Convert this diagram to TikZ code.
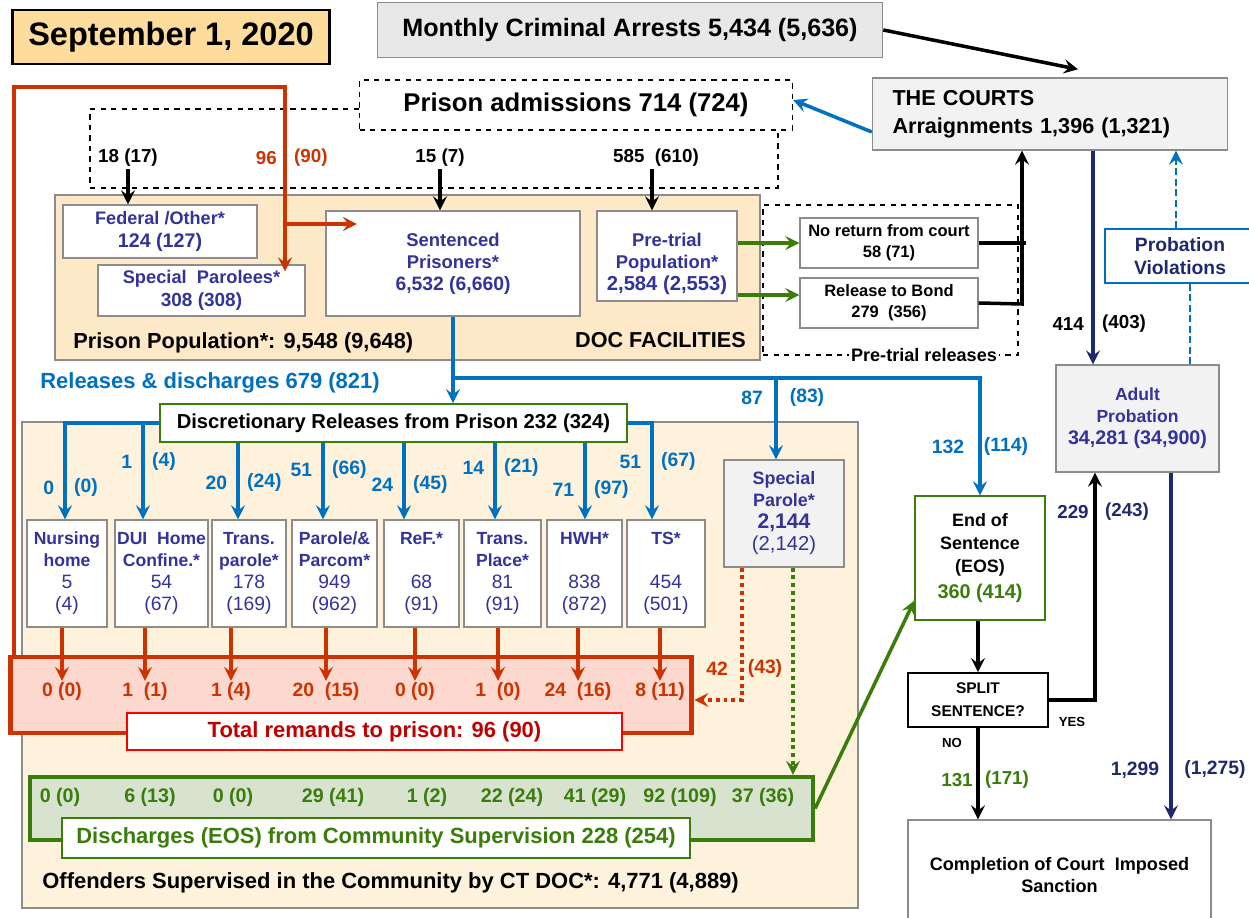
\documentclass[tikz,border=0pt]{standalone}
\usepackage{fontspec}
\setmainfont{Liberation Sans}
\usetikzlibrary{arrows.meta,calc}

\definecolor{datefill}{HTML}{FDDC9C}
\definecolor{docfill}{HTML}{FDE9C8}
\definecolor{commfill}{HTML}{FEF2DD}
\definecolor{greyfill}{HTML}{E8E8E8}
\definecolor{lightfill}{HTML}{F2F2F2}
\definecolor{remfill}{HTML}{FCD8CF}
\definecolor{disfill}{HTML}{D7E3CF}
\definecolor{boxgrey}{HTML}{8C8C8C}
\definecolor{cnavy}{HTML}{33339A}
\definecolor{cdnavy}{HTML}{1F2A6E}
\definecolor{cblue}{HTML}{0070C0}
\definecolor{cred}{HTML}{CC3300}
\definecolor{cdred}{HTML}{C00000}
\definecolor{cgreen}{HTML}{3A7D0A}

\newcommand{\setfs}[2]{\fontsize{#1}{#2}\selectfont}
\newcommand{\subnum}[1]{{\mdseries\setfs{11}{12.5}#1}}

\begin{document}
\begin{tikzpicture}[x=0.02cm, y=-0.02cm,
    box/.style={draw=boxgrey, line width=0.8pt, fill=white, align=center, inner sep=0pt},
    sub/.style={box, minimum height=2.14cm, text=cnavy, font=\setfs{10}{12.5}\bfseries},
    lbl/.style={inner sep=1pt, font=\setfs{10.7}{12}\bfseries},
    bnum/.style={lbl, text=cblue, font=\setfs{11}{12}\bfseries},
    rnum/.style={lbl, text=cred, font=\setfs{11}{12}\bfseries},
    gnum/.style={lbl, text=cgreen, font=\setfs{11.2}{12}\bfseries},
    arr/.style={-{Stealth[length=8pt, width=8pt, inset=3pt]}, line width=2pt},
    blkarr/.style={arr, black},
    bluearr/.style={arr, cblue},
    redarr/.style={arr, cred},
    navyarr/.style={arr, cdnavy},
    greenarr/.style={arr, cgreen}]

\useasboundingbox (0,0) rectangle (1249,918);

% Background areas
\node[draw=boxgrey, fill=docfill, line width=0.8pt, minimum width=14.1cm, minimum height=3.3cm] (doc) at (407.5,277.5) {};
\node[draw=boxgrey, fill=commfill, line width=0.8pt, minimum width=16.72cm, minimum height=9.72cm] (comm) at (440,665) {};
\node[draw, dashed, line width=0.8pt, minimum width=5.1cm, minimum height=3.0cm] (ptr) at (890.5,280) {};
\node[fill=white, inner sep=1pt, font=\setfs{10.3}{12}\bfseries] (ptrlbl) at (924,355) {Pre-trial releases};

% Top row
\node[draw, line width=1.2pt, fill=datefill, minimum width=6.34cm, minimum height=1.08cm, font=\setfs{18.5}{21}\bfseries] (date) at (171,37) {September 1, 2020};
\node[draw=boxgrey, line width=1pt, fill=greyfill, minimum width=10.1cm, minimum height=1.1cm, font=\setfs{14.3}{16}\bfseries] (mon) at (630,30) {Monthly Criminal Arrests 5,434 (5,636)};
\node[box, fill=lightfill, minimum width=7.1cm, minimum height=1.44cm, text width=6.3cm, align=left, font=\setfs{12.3}{16}\bfseries] (courts) at (1050,114) {THE COURTS\\ Arraignments 1,396 (1,321)};
\node[draw, dashed, line width=0.8pt, fill=white, minimum width=8.66cm, minimum height=1.0cm, font=\setfs{14.6}{16}\bfseries] (adm) at (576,105) {Prison admissions 714 (724)};
\draw[dashed, line width=0.8pt] (adm.west |- 0,109) -- (90,109) -- (90,188) -- (778,188) -- (778,130);

% Admission counts
\node[lbl] (n18) at (128,158) {18 (17)};
\node[lbl, text=cred, anchor=east] (n96) at (279,158) {96};
\node[lbl, text=cred, anchor=west] (n90) at (292,158) {(90)};
\node[lbl] (n15) at (440,158) {15 (7)};
\node[lbl] (n585) at (656,158) {585\ \ (610)};

% DOC facilities
\node[box, text=cnavy, minimum width=3.88cm, minimum height=1.06cm, font=\setfs{10.3}{13}\bfseries] (fed) at (160,231.5) {Federal /Other*\\ \setfs{11.2}{13}124 (127)};
\node[box, text=cnavy, minimum width=4.14cm, minimum height=1.02cm, font=\setfs{10.4}{13}\bfseries] (specp) at (201.5,290.5) {Special\ \ Parolees*\\ \setfs{10.8}{13}308 (308)};
\node[box, text=cnavy, minimum width=5.08cm, minimum height=2.1cm, font=\setfs{10.5}{12.5}\bfseries] (sent) at (453,263.5) {Sentenced\\ Prisoners*\\ \setfs{11}{12.5}6,532 (6,660)};
\node[box, minimum width=2.8cm, minimum height=1.8cm] (pre) at (667,256) {};
\node[align=center, inner sep=0pt, text=cnavy, font=\setfs{10.5}{12.5}\bfseries] (pretxt) at (667,264) {Pre-trial\\ Population*\\ \setfs{11.5}{12.5}2,584 (2,553)};
\node[anchor=west, inner sep=0pt, font=\setfs{12.4}{14}\bfseries] (poplbl) at (73,343) {Prison Population*: 9,548 (9,648)};
\node[anchor=east, inner sep=0pt, font=\setfs{12.3}{14}\bfseries] (doclbl) at (746,340) {DOC FACILITIES};

\draw[blkarr] (n18.south) -- (fed.north -| n18.south);
\draw[blkarr] (n15.south) -- (sent.north -| n15.south);
\draw[blkarr] (n585.south -| 652,0) -- (pre.north -| 652,0);

% Pre-trial releases
\node[box, minimum width=3.56cm, minimum height=1.0cm, font=\setfs{9.4}{12}\bfseries] (noret) at (889,243) {No return from court\\ 58 (71)};
\node[box, minimum width=3.56cm, minimum height=1.0cm, font=\setfs{9.4}{12}\bfseries] (bond) at (889,303) {Release to Bond\\ 279\ \ (356)};
\draw[greenarr] (pre.east |- noret.west) -- (noret.west);
\draw[greenarr] (pre.east |- 0,295) -- (bond.west |- 0,295);
\coordinate (up) at (1022,304);
\draw[line width=2pt] (noret.east) -- (noret.east -| 1026,0);
\draw[blkarr] (bond.east) -- (up) -- (courts.south -| up);

% Courts and probation
\draw[blkarr] (mon.east) -- ($(courts.north)+(28,-8)$);
\draw[bluearr] ([yshift=-0.36cm]courts.west) -- ([yshift=0.1cm]adm.east);
\node[box, text=cnavy, fill=lightfill, minimum width=3.26cm, minimum height=2.14cm, font=\setfs{10}{12.5}\bfseries] (adult) at (1137.5,418.5) {Adult\\ Probation\\ \setfs{11.2}{12.5}34,281 (34,900)};
\node[draw=cblue, line width=1pt, fill=white, text=cdnavy, minimum width=3.0cm, minimum height=1.08cm, align=center, inner sep=0pt, font=\setfs{11}{13}\bfseries] (pv) at (1180,256) {Probation\\ Violations};
\coordinate (c414) at (1093,0);
\draw[navyarr] (courts.south -| c414) -- (adult.north -| c414);
\node[lbl, anchor=east] (l414) at (1086,324) {414};
\node[lbl, anchor=west] (l403) at (1100,324) {(403)};
\draw[cblue, line width=1.5pt, dash pattern=on 4pt off 2pt] (adult.north -| 1190,0) -- (pv.south -| 1190,0);
\draw[bluearr, line width=1.5pt, dash pattern=on 4pt off 2pt] (pv.north -| 1176,0) -- (courts.south -| 1176,0);

% Releases from prison
\node[anchor=west, inner sep=0pt, text=cblue, font=\setfs{12.5}{14}\bfseries] (rellbl) at (40,383) {Releases \& discharges 679 (821)};
\node[draw=cgreen, line width=1pt, fill=white, minimum width=9.34cm, minimum height=0.76cm, inner sep=0pt, font=\setfs{11.5}{13}\bfseries] (disc) at (393.5,423) {Discretionary Releases from Prison 232 (324)};
\node[box, text=cnavy, fill=lightfill, minimum width=2.4cm, minimum height=2.14cm, font=\setfs{10.2}{12.5}\bfseries] (spar) at (784,513.5) {Special\\ Parole*\\ \setfs{12}{12.5}2,144\\ \mdseries\setfs{11.5}{12.5}(2,142)};
\node[box, draw=cgreen, minimum width=2.6cm, minimum height=2.48cm, font=\setfs{10.2}{13}\bfseries] (eos) at (980,558) {End of\\ Sentence\\ (EOS)\\[2pt] {\color{cgreen}\setfs{11.3}{12}360 (414)}};

\coordinate (bj) at (453,378);
\coordinate (c87) at (776,0);
\draw[cblue, line width=2pt] (sent.south) -- (bj);
\draw[bluearr] (bj) -| (eos.north);
\draw[bluearr] (bj) -- (disc.north -| bj);
\draw[bluearr] (bj -| c87) -- (spar.north -| c87);
\node[bnum] (l87) at (752,398) {87};
\node[bnum] (l83) at (807,398) {(83)};
\node[bnum] (l132) at (948,447) {132};
\node[bnum] (l114) at (1006,447) {(114)};

% Community programs
\foreach \nm/\cx/\w/\txt in {
    nurs/67/1.6/{Nursing\\home\\\subnum{5}\\\subnum{(4)}},
    dui/161.5/1.86/{DUI\ \ Home\\Confine.*\\\subnum{54}\\\subnum{(67)}},
    tpar/249/1.48/{Trans.\\parole*\\\subnum{178}\\\subnum{(169)}},
    par/334.5/1.7/{Parole/\&\\Parcom*\\\subnum{949}\\\subnum{(962)}},
    ref/421.5/1.5/{ReF.*\\[12.5pt]\subnum{68}\\\subnum{(91)}},
    tpl/502.5/1.54/{Trans.\\Place*\\\subnum{81}\\\subnum{(91)}},
    hwh/584.5/1.5/{HWH*\\[12.5pt]\subnum{838}\\\subnum{(872)}},
    ts/666/1.56/{TS*\\[12.5pt]\subnum{454}\\\subnum{(501)}}} {
    \node[sub, minimum width=\w cm] (\nm) at (\cx,573.5) {\txt};
}

\foreach \nm/\ax/\ly/\a/\b in {nurs/65/488/0/{(0)}, dui/143/462/1/{(4)}, tpar/238/483/20/{(24)},
    par/323/470/51/{(66)}, ref/404/485/24/{(45)}, tpl/495/468/14/{(21)}, hwh/585/490/71/{(97)}, ts/652/462/51/{(67)}} {
    \coordinate (x\nm) at (\ax,\ly);
    \node[bnum, anchor=east] (la\nm) at ([xshift=-5pt]x\nm) {\a};
    \node[bnum, anchor=west] (lb\nm) at ([xshift=4pt]x\nm) {\b};
}
\draw[bluearr] (disc.west) -| (nurs.north -| xnurs);
\draw[bluearr] (disc.west -| xdui) -- (dui.north -| xdui);
\foreach \nm in {tpar, par, ref, tpl, hwh}
    \draw[bluearr] (disc.south -| x\nm) -- (\nm.north -| x\nm);
\draw[bluearr] (disc.east) -| (ts.north -| xts);

% Remands to prison
\node[draw=cred, line width=2.8pt, fill=remfill, minimum width=13.64cm, minimum height=1.52cm] (rem) at (351,695) {};
\node[draw=red, line width=1.2pt, fill=white, text=cdred, minimum width=9.9cm, minimum height=0.74cm, font=\setfs{12.5}{14}\bfseries] (totrem) at (374.5,731.5) {Total remands to prison: 96 (90)};
\foreach \nm/\rx/\t in {nurs/62/{0 (0)}, dui/145/{1\ \ (1)}, tpar/231/{1 (4)}, par/326/{20\ \ (15)},
    ref/415/{0 (0)}, tpl/498/{1\ \ (0)}, hwh/578/{24\ \ (16)}, ts/660/{8 (11)}} {
    \node[rnum] (r\nm) at (\rx,692) {\t};
    \draw[redarr] (\nm.south -| r\nm) -- (r\nm.north);
}

\coordinate (rtop) at (14,87);
\coordinate (rv) at (285,87);
\coordinate (rb) at (285,224);
\draw[cred, line width=2.2pt] (rem.north west -| rtop) -- (rtop) -- (rv) -- (rb);
\draw[redarr] (rb) -- ([yshift=-4pt]specp.north -| rb);
\draw[redarr] (rb) -- ([xshift=18pt]sent.west |- rb);

\coordinate (rd) at (742,0);
\draw[redarr, dash pattern=on 2.2pt off 2.2pt] (spar.south -| rd) |- ([yshift=-0.1cm]rem.east);
\node[rnum] (l42) at (717,669) {42};
\node[rnum] (l43) at (765,669) {(43)};

% Discharges from community supervision
\node[draw=cgreen, line width=2.4pt, fill=disfill, minimum width=15.66cm, minimum height=1.26cm] (dis) at (421.5,808.5) {};
\node[draw=cgreen, line width=1.2pt, fill=white, text=cgreen, minimum width=12.56cm, minimum height=0.8cm, font=\setfs{12.5}{14}\bfseries] (dislbl) at (376,838) {Discharges (EOS) from Community Supervision 228 (254)};
\foreach \i/\gx/\t in {1/60/{0 (0)}, 2/150/{6 (13)}, 3/233/{0 (0)}, 4/333/{29 (41)}, 5/427/{1 (2)},
    6/512/{22 (24)}, 7/595/{41 (29)}, 8/680/{92 (109)}, 9/763/{37 (36)}} {
    \node[gnum] (g\i) at (\gx,797) {\t};
}
\coordinate (gd) at (793,0);
\draw[greenarr, dash pattern=on 2.2pt off 2.2pt] (spar.south -| gd) -- (dis.north -| gd);
\draw[greenarr] (dis.east) -- ([yshift=0.4cm]eos.south west);
\node[anchor=west, inner sep=0pt, font=\setfs{12.5}{14}\bfseries] (offlbl) at (42,883) {Offenders Supervised in the Community by CT DOC*: 4,771 (4,889)};

% End of sentence
\node[draw, line width=1pt, fill=white, minimum width=2.8cm, minimum height=1.08cm, align=center, inner sep=0pt, font=\setfs{8.8}{13}\bfseries] (split) at (978,700) {SPLIT\\ SENTENCE?};
\node[box, minimum width=6.06cm, minimum height=2.2cm, font=\setfs{10.3}{13}\bfseries] (comp) at (1059.5,875) {Completion of Court\ \ Imposed\\ Sanction};
\draw[blkarr] (eos.south -| split.north) -- (split.north);
\coordinate (c229) at (1095,0);
\draw[blkarr] (split.east) -| (adult.south -| c229);
\draw[blkarr] (split.south) -- (split.south |- comp.north);
\coordinate (c1299) at (1171,0);
\draw[navyarr] (adult.south -| c1299) -- (comp.north -| c1299);

\node[lbl, text=cdnavy] (l229) at (1073,512) {229};
\node[lbl, text=cdnavy] (l243) at (1127,512) {(243)};
\node[lbl, font=\setfs{7.5}{9}\bfseries] (yes) at (1072,722) {YES};
\node[lbl, font=\setfs{7.5}{9}\bfseries] (no) at (952,743) {NO};
\node[lbl, text=cgreen] (l131) at (957,780) {131};
\node[lbl, text=cgreen] (l171) at (1007,780) {(171)};
\node[lbl, text=cdnavy, font=\setfs{11}{12}\bfseries] (l1299) at (1135,770) {1,299};
\node[lbl, text=cdnavy, font=\setfs{11}{12}\bfseries] (l1275) at (1215,770) {(1,275)};

\end{tikzpicture}
\end{document}
